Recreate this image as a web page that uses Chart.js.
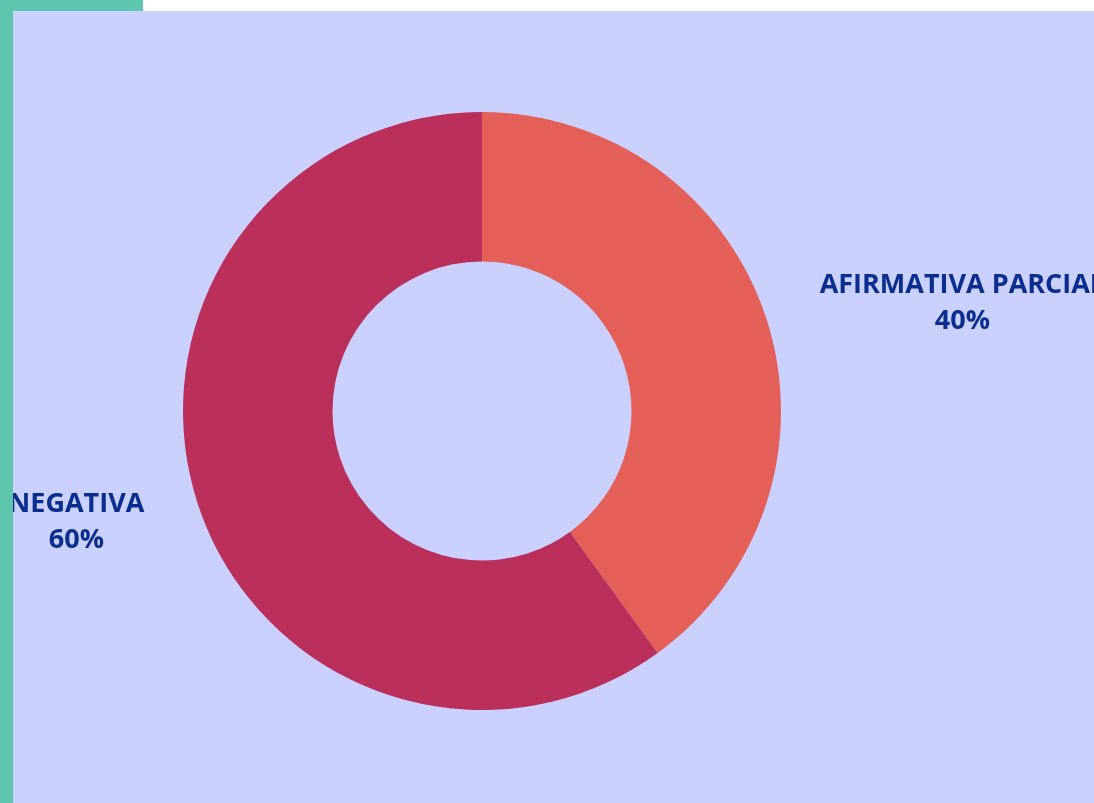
<!DOCTYPE html>
<html>
<head>
<meta charset="utf-8">
<script src="https://cdn.jsdelivr.net/npm/chart.js@4"></script>
<style>
  html, body { margin: 0; padding: 0; background: #ffffff; overflow: hidden; }
  #side { position: absolute; left: 0; top: 0; width: 143px; height: 803px; background: #5FC6AE; }
  #panel { position: absolute; left: 13px; top: 11px; width: 1081px; height: 792px; background: #CBD1FE; }
</style>
</head>
<body>
<div id="side"></div>
<div id="panel"><canvas id="chart" width="1081" height="792"></canvas></div>
<script>
const labels = ['AFIRMATIVA PARCIAL', 'NEGATIVA'];
const values = [40, 60];
const colors = ['#E45F58', '#BB2F5B'];

const ctx = document.getElementById('chart').getContext('2d');

// draws "LABEL / xx%" outside each slice
const outsideLabels = {
    id: 'outsideLabels',
    afterDatasetsDraw(chart) {
        const c = chart.ctx;
        const meta = chart.getDatasetMeta(0);
        const total = values.reduce((a, b) => a + b, 0);
        c.save();
        c.font = 'bold 27px "Open Sans"';
        c.fillStyle = '#0B2D8E';
        c.textBaseline = 'middle';
        c.textAlign = 'center';
        meta.data.forEach((arc, i) => {
            const { x, y, startAngle, endAngle, outerRadius } = arc.getProps(['x', 'y', 'startAngle', 'endAngle', 'outerRadius'], true);
            const mid = (startAngle + endAngle) / 2;
            const r = outerRadius + 56;
            const px = x + Math.cos(mid) * r;
            const py = y + Math.sin(mid) * r + 2;
            const lines = [labels[i], Math.round(values[i] / total * 100) + '%'];
            const w = Math.max(...lines.map(l => c.measureText(l).width));
            const cx = Math.cos(mid) >= 0 ? px + w / 2 : px - w / 2;
            c.fillText(lines[0], cx, py - 18);
            c.fillText(lines[1], cx, py + 18);
        });
        c.restore();
    }
};

const chart = new Chart(ctx, {
    type: 'doughnut',
    data: {
        labels: labels,
        datasets: [{
            data: values,
            backgroundColor: colors,
            borderWidth: 0
        }]
    },
    options: {
        responsive: false,
        animation: false,
        cutout: '50%',
        layout: { padding: { left: 100, right: 243, top: 101, bottom: 93 } },
        plugins: {
            legend: { display: false },
            tooltip: { enabled: false }
        }
    },
    plugins: [outsideLabels]
});
</script>
</body>
</html>
